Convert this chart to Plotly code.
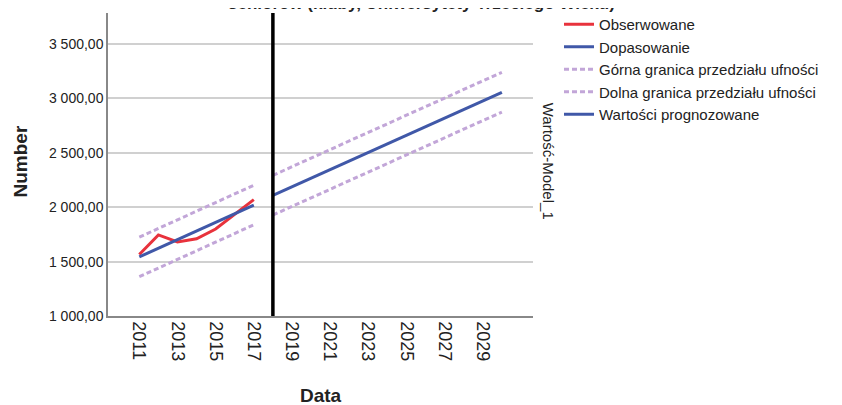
import plotly.graph_objects as go

# ---- data ----
years_obs = [2011, 2012, 2013, 2014, 2015, 2016, 2017]
observed = [1565, 1745, 1680, 1710, 1800, 1935, 2070]
fitted = [1543, 1622, 1702, 1781, 1861, 1940, 2020]
ucl_fit = [1725, 1804, 1884, 1963, 2043, 2122, 2202]
lcl_fit = [1361, 1440, 1520, 1599, 1679, 1758, 1838]

years_fc = [2018, 2019, 2020, 2021, 2022, 2023, 2024, 2025, 2026, 2027, 2028, 2029, 2030]
forecast = [2108, 2187, 2266, 2345, 2424, 2503, 2582, 2660, 2739, 2818, 2897, 2976, 3055]
ucl_fc = [2293, 2372, 2451, 2530, 2609, 2688, 2767, 2845, 2924, 3003, 3082, 3161, 3240]
lcl_fc = [1928, 2007, 2086, 2165, 2244, 2323, 2402, 2480, 2559, 2638, 2717, 2796, 2875]

forecast_start = 2018
x_ticks = [2011, 2013, 2015, 2017, 2019, 2021, 2023, 2025, 2027, 2029]
y_ticks = [1000, 1500, 2000, 2500, 3000, 3500]

title_text = "seniorów (kluby, Uniwersytety Trzeciego Wieku)"

RED = "#e8323c"
BLUE = "#4058a8"
PURPLE = "#c2a6d8"
FONT = "Arial, Liberation Sans, sans-serif"

# page body adds an 8px offset; figure is sized to fit the 842x405 window
W, H = 834, 397

fig = go.Figure()
fig.add_trace(go.Scatter(x=years_obs, y=observed, mode="lines", name="Obserwowane",
                         line=dict(color=RED, width=3)))
fig.add_trace(go.Scatter(x=years_obs, y=fitted, mode="lines", name="Dopasowanie",
                         line=dict(color=BLUE, width=3)))
fig.add_trace(go.Scatter(x=years_obs, y=ucl_fit, mode="lines", name="Górna granica przedziału ufności",
                         legendgroup="ucl", line=dict(color=PURPLE, width=3, dash="5px,3px")))
fig.add_trace(go.Scatter(x=years_obs, y=lcl_fit, mode="lines", name="Dolna granica przedziału ufności",
                         legendgroup="lcl", line=dict(color=PURPLE, width=3, dash="5px,3px")))
fig.add_trace(go.Scatter(x=years_fc, y=ucl_fc, mode="lines", name="Górna granica przedziału ufności",
                         legendgroup="ucl", showlegend=False,
                         line=dict(color=PURPLE, width=3, dash="5px,3px")))
fig.add_trace(go.Scatter(x=years_fc, y=lcl_fc, mode="lines", name="Dolna granica przedziału ufności",
                         legendgroup="lcl", showlegend=False,
                         line=dict(color=PURPLE, width=3, dash="5px,3px")))
fig.add_trace(go.Scatter(x=years_fc, y=forecast, mode="lines", name="Wartości prognozowane",
                         line=dict(color=BLUE, width=3)))

fig.add_shape(type="line", xref="x", yref="paper", x0=forecast_start, x1=forecast_start,
              y0=0, y1=1, line=dict(color="black", width=3.5))

fig.update_layout(
    width=W, height=H,
    margin=dict(l=100, r=309, t=5, b=89, autoexpand=False),
    paper_bgcolor="white", plot_bgcolor="white",
    separators=", ",
    font=dict(family=FONT, color="#222"),
    showlegend=True,
    legend=dict(xref="container", yref="container", x=551 / W, y=1.0,
                xanchor="left", yanchor="top",
                font=dict(size=15, family=FONT, color="#222"),
                bgcolor="rgba(0,0,0,0)", tracegroupgap=0, itemwidth=30,
                traceorder="normal"),
    xaxis=dict(range=[2009.36, 2031.63], tickvals=x_ticks, tickangle=90, automargin=False,
               tickfont=dict(size=18, family=FONT, color="#222"),
               showgrid=False, zeroline=False, showline=True, linecolor="#888",
               linewidth=1.5, ticks="", ticklen=0),
    yaxis=dict(range=[1000, 3785], tickvals=y_ticks, tickformat=",.2f", automargin=False,
               tickfont=dict(size=14, family=FONT, color="#222"),
               showgrid=True, gridcolor="#d0d0d0", gridwidth=1.5, zeroline=False,
               showline=True, linecolor="#888", linewidth=1.5, ticks="", ticklen=0),
)

fig.add_annotation(text="<b>" + title_text + "</b>", xref="paper", yref="paper",
                   x=0.7365, y=1, xanchor="center", yanchor="bottom", yshift=-2, showarrow=False,
                   font=dict(size=17, family=FONT, color="#222"))
fig.add_annotation(text="<b>Number</b>", xref="paper", yref="paper", x=-0.207, y=0.51,
                   xanchor="center", yanchor="middle", textangle=-90, showarrow=False,
                   font=dict(size=19, family=FONT, color="#222"))
fig.add_annotation(text="<b>Data</b>", xref="paper", yref="paper", x=0.5, y=-0.262,
                   xanchor="center", yanchor="middle", showarrow=False,
                   font=dict(size=19, family=FONT, color="#222"))
fig.add_annotation(text="Wartość-Model_1", xref="paper", yref="paper", x=1.037, y=0.51,
                   xanchor="center", yanchor="middle", textangle=90, showarrow=False,
                   font=dict(size=15, family=FONT, color="#222"))

fig.write_html("out.html")
